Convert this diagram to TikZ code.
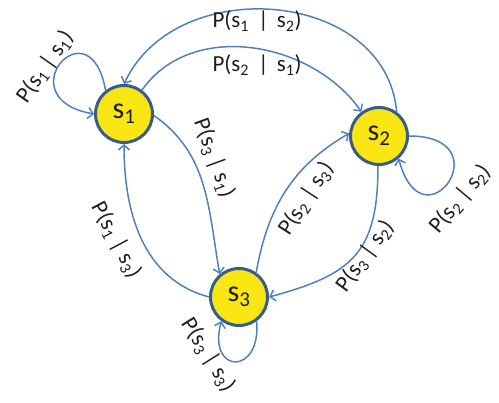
\documentclass[tikz,border=0pt]{standalone}
\usepackage{fontspec}
\setmainfont{Carlito}
\usetikzlibrary{arrows.meta}

\definecolor{edgeblue}{RGB}{79,129,189}
\definecolor{rimblue}{RGB}{56,93,138}
\definecolor{sunyellow}{RGB}{250,230,20}
\definecolor{inkgray}{RGB}{30,30,30}
\newcommand\cprob[2]{P(s\textsubscript{#1} | s\textsubscript{#2})}
\newcommand\cprobw[2]{P(s\textsubscript{#1}\hspace{0.4em}|\hspace{0.35em}s\textsubscript{#2})}

\begin{document}
\begin{tikzpicture}[x=1pt,y=1pt,
  state/.style={circle,draw=rimblue,fill=sunyellow,line width=3pt,
    minimum size=57pt,inner sep=0pt,text=inkgray,font=\fontsize{30}{32}\selectfont},
  trans/.style={draw=edgeblue,line width=1.5pt,-{Straight Barb[length=5pt,width=11pt]}},
  prob/.style={text=inkgray,inner sep=1pt,font=\fontsize{23}{25}\selectfont}]
  \useasboundingbox (0,0) rectangle (499,403);

  \node[state] (s1) at (124,289) {s\textsubscript{1}};
  \node[state] (s2) at (379,267) {s\textsubscript{2}};
  \node[state] (s3) at (239,106) {s\textsubscript{3}};

  \draw[trans] (s1.128) to[out=100,in=170,distance=90pt] (s1.180);
  \draw[trans] (s2.54) to[out=95,in=65,looseness=1.15] (s1.90);
  \draw[trans] (s1.53) to[out=55,in=125] (s2.126);
  \draw[trans] (s1.-3) to[out=-35,in=100] (s3.130);
  \draw[trans] (s3.180) to[out=165,in=270] (s1.270);
  \draw[trans] (s3.55) to[out=80,in=210] (s2.175);
  \draw[trans] (s2.268) to[out=270,in=15,looseness=1.3] (s3.0);
  \draw[trans] (s2.0) to[out=0,in=285,distance=95pt] (s2.311);
  \draw[trans] (s3.306) to[out=275,in=255,distance=55pt] (s3.234);

  \node[prob,rotate=55] (l11) at (45,336) {\cprob{1}{1}};
  \node[prob] (l12) at (257,382) {\cprobw{1}{2}};
  \node[prob] (l21) at (257,338) {\cprobw{2}{1}};
  \node[prob,rotate=-70] (l31) at (214,245) {\cprob{3}{1}};
  \node[prob,rotate=-62] (l13) at (116,163) {\cprob{1}{3}};
  \node[prob,rotate=57] (l23) at (306,204) {\cprob{2}{3}};
  \node[prob,rotate=54] (l32) at (365,147) {\cprob{3}{2}};
  \node[prob,rotate=50] (l22) at (460,204) {\cprob{2}{2}};
  \node[prob,rotate=-58] (l33) at (208,48) {\cprob{3}{3}};
\end{tikzpicture}
\end{document}
